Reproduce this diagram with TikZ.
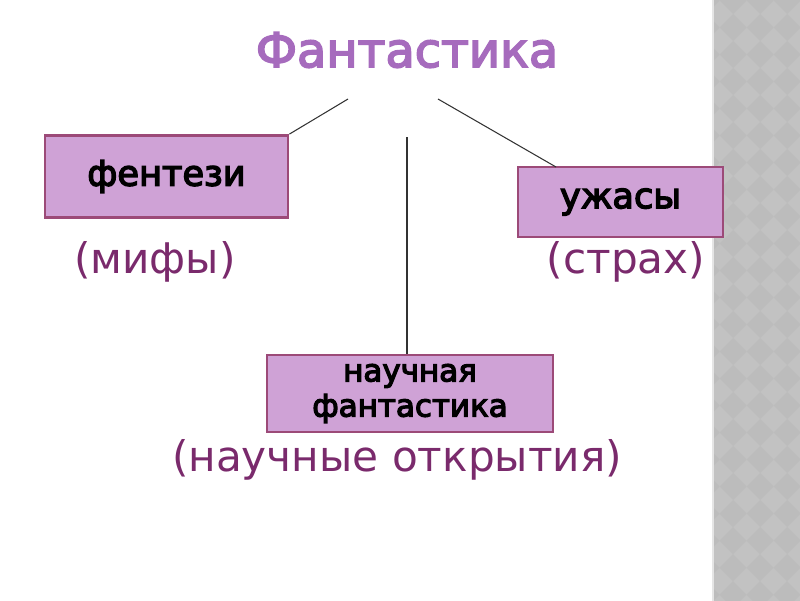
\documentclass[tikz,border=0pt]{standalone}
\usepackage{fontspec}
\setmainfont{DejaVu Sans}
\newfontfamily\headfont{DejaVu Sans}[RawFeature={embolden=3.5}]
\newfontfamily\boxfont{DejaVu Sans}[RawFeature={embolden=4}]
\usetikzlibrary{positioning}

\definecolor{titlecol}{HTML}{A66BBD}
\definecolor{boxfill}{HTML}{CFA2D6}
\definecolor{boxline}{HTML}{9C4A78}
\definecolor{notecol}{HTML}{7A2A6C}
\definecolor{stripbg}{HTML}{C2C2C2}
\definecolor{stripdk}{HTML}{BCBCBC}

\tikzset{
  genre/.style={draw=boxline, line width=2pt, fill=boxfill, inner sep=0pt,
    font=\boxfont\fontsize{25}{29}\selectfont, align=center},
  note/.style={text=notecol, font=\fontsize{30}{35}\selectfont},
  link/.style={draw=black!80, line width=0.75pt}
}

\begin{document}
\begin{tikzpicture}[x=0.025cm,y=-0.025cm]
\useasboundingbox (0,0) rectangle (800,600);
% gray strip on the right
\fill[stripbg] (713,-2) rectangle (802,602);
\begin{scope}
\clip (713,-2) rectangle (802,602);
\foreach \i in {0,...,4} {
  \foreach \j in {0,...,23} {
    \fill[stripdk] (706+27*\i,-13+27*\j) -- ++(13.5,13.5) -- ++(-13.5,13.5) -- ++(-13.5,-13.5) -- cycle;
  }
}
\end{scope}
\fill[white!80!gray] (712,-2) rectangle (714,602);

\node[text=titlecol, font=\headfont\fontsize{34}{39}\selectfont] (title) at (407,50) {Фантастика};

\node[genre, minimum width=243*0.025cm, minimum height=82*0.025cm] (fantasy) at (166.5,176.5) {фентези};
\node[genre, minimum width=205*0.025cm, minimum height=70*0.025cm] (horror) at (620.5,202) {ужасы};
\node[genre, minimum width=286*0.025cm, minimum height=77*0.025cm, font=\boxfont\fontsize{22}{25}\selectfont] (scifi) at (410,393.5) {научная\\фантастика};

\node[note] (myths) at (155,262) {(мифы)};
\node[note] (fear) at (626,262) {(страх)};
\node[note] (discov) at (397,460) {(научные открытия)};

\coordinate (tl) at (348,99);
\coordinate (tm) at (407,137);
\coordinate (tr) at (438,99);
\coordinate (hr) at (556,167);
\draw[link] (tl) -- (fantasy.north east);
\draw[link] (tm) -- (tm |- scifi.north);
\draw[link] (tr) -- (hr);
\end{tikzpicture}
\end{document}
